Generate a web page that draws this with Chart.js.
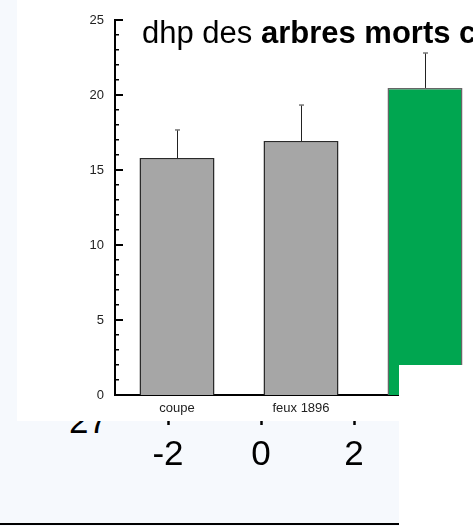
<!DOCTYPE html>
<html><head><meta charset="utf-8">
<script src="https://cdn.jsdelivr.net/npm/chart.js@4.4.1/dist/chart.umd.min.js"></script>
<style>
html,body{margin:0;padding:0;background:#fff;overflow:hidden;}
#wrap{position:relative;width:473px;height:526px;overflow:hidden;background:#fff;}
.abs{position:absolute;}
#blue{left:0;top:0;width:399px;height:526px;background:#f6f9fd;}
#n27{left:69px;top:403px;font:35px 'Liberation Sans',Arial,sans-serif;color:#000;line-height:35px;white-space:nowrap;}
#c2wrap{left:0;top:380px;width:473px;height:146px;}
#panel{left:17px;top:0;width:456px;height:421px;background:#fff;}
#c1wrap{left:0;top:0;width:520px;height:421px;}
#mask{left:399px;top:365px;width:74px;height:161px;background:#fff;}
#bline{left:0;top:523px;width:399px;height:2px;background:#000;}
</style>
</head><body>
<div id="wrap">
  <div id="blue" class="abs"></div>
  <div id="n27" class="abs">27</div>
  <div id="c2wrap" class="abs"><canvas id="c2" width="473" height="146"></canvas></div>
  <div id="panel" class="abs"></div>
  <div id="c1wrap" class="abs"><canvas id="c1" width="520" height="421"></canvas></div>
  <div id="mask" class="abs"></div>
  <div id="bline" class="abs"></div>
</div>
<script>
const categories = ['coupe', 'feux 1896', ''];
const means = [15.8, 16.93, 20.47];
const upperErr = [17.67, 19.33, 22.8];
const barColors = ['#a6a6a6', '#a6a6a6', '#00a650'];
const barBorders = ['#2a2a2a', '#2a2a2a', '#666666'];
const yMin = 0, yMax = 25, yStep = 5;
const bottomTicks = [-2, 0, 2];
const titleNormal = 'dhp des ';
const titleBold = 'arbres morts c';

const FONT = "'Liberation Sans', Arial, sans-serif";

const minorTicks = {
  id: 'minorTicks',
  afterDraw(chart) {
    const y = chart.scales.y, ctx = chart.ctx, x0 = chart.chartArea.left;
    ctx.save();
    ctx.fillStyle = '#000';
    for (let v = yMin; v <= yMax; v++) {
      const p = y.getPixelForValue(v);
      const major = v % yStep === 0;
      if (major) ctx.fillRect(x0, Math.round(p) - 1, 8, 2);
      else ctx.fillRect(x0, Math.round(p) - 1, 4, 1.5);
    }
    ctx.restore();
  }
};

const errorBars = {
  id: 'errorBars',
  afterDatasetsDraw(chart) {
    const y = chart.scales.y, ctx = chart.ctx;
    const meta = chart.getDatasetMeta(0);
    ctx.save();
    meta.data.forEach((bar, i) => {
      const top = y.getPixelForValue(means[i]);
      const e = y.getPixelForValue(upperErr[i]);
      const x = Math.round(bar.x) + 0.5;
      ctx.strokeStyle = '#222';
      ctx.lineWidth = 1;
      ctx.beginPath(); ctx.moveTo(x, top); ctx.lineTo(x, e); ctx.stroke();
      ctx.strokeStyle = '#777';
      ctx.lineWidth = 1.5;
      ctx.beginPath(); ctx.moveTo(x - 2.5, e); ctx.lineTo(x + 2.5, e); ctx.stroke();
    });
    ctx.restore();
  }
};

const titlePlugin = {
  id: 'mixedTitle',
  afterDraw(chart) {
    const ctx = chart.ctx;
    ctx.save();
    ctx.fillStyle = '#000';
    ctx.textBaseline = 'alphabetic';
    ctx.font = '31px ' + FONT;
    ctx.fillText(titleNormal, 142, 43);
    const w = ctx.measureText(titleNormal).width;
    ctx.font = 'bold 31px ' + FONT;
    ctx.fillText(titleBold, 142 + w, 43);
    ctx.restore();
  }
};

new Chart(document.getElementById('c1'), {
  type: 'bar',
  data: {
    labels: categories,
    datasets: [{
      data: means,
      backgroundColor: barColors,
      borderColor: barBorders,
      borderWidth: 1.5,
      borderSkipped: 'bottom',
      categoryPercentage: 1,
      barPercentage: 0.605
    }]
  },
  options: {
    responsive: false,
    animation: false,
    events: [],
    layout: { padding: { left: 0, right: 33, top: 20, bottom: 0 } },
    plugins: { legend: { display: false }, tooltip: { enabled: false }, title: { display: false } },
    scales: {
      x: {
        grid: { display: false, drawTicks: false },
        border: { display: true, color: '#000', width: 2 },
        ticks: { font: { size: 13, family: FONT }, color: '#222', padding: 6 },
        afterFit(s) { s.height = 26; }
      },
      y: {
        min: yMin, max: yMax,
        grid: { display: false, drawTicks: false },
        border: { display: true, color: '#000', width: 2 },
        ticks: { stepSize: yStep, font: { size: 13, family: FONT }, color: '#222', padding: 11 },
        afterFit(s) { s.width = 115; }
      }
    }
  },
  plugins: [minorTicks, errorBars, titlePlugin]
});

new Chart(document.getElementById('c2'), {
  type: 'scatter',
  data: { datasets: [{ data: [] }] },
  options: {
    responsive: false,
    animation: false,
    events: [],
    layout: { padding: { left: 168, right: 119, top: 0, bottom: 0 } },
    plugins: { legend: { display: false }, tooltip: { enabled: false } },
    scales: {
      x: {
        type: 'linear',
        min: bottomTicks[0], max: bottomTicks[bottomTicks.length - 1],
        afterBuildTicks(s) { s.ticks = bottomTicks.map(v => ({ value: v })); },
        grid: { drawOnChartArea: false, drawTicks: true, tickLength: 8, tickWidth: 2.5, tickColor: '#000' },
        border: { display: false },
        ticks: { font: { size: 35, family: FONT }, color: '#000', padding: 9 },
        afterFit(s) { s.height = 109; }
      },
      y: { display: false }
    }
  }
});
</script>
</body></html>
